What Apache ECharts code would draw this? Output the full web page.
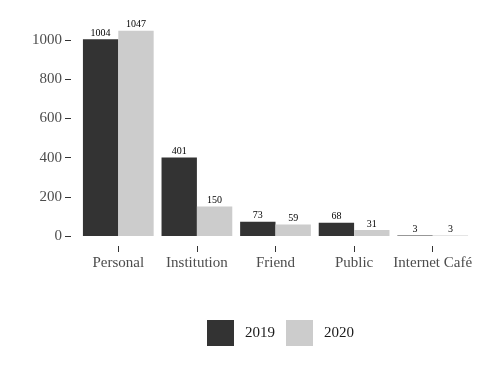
<!DOCTYPE html>
<html>
<head>
<meta charset="utf-8">
<script src="https://cdn.jsdelivr.net/npm/echarts@6/dist/echarts.min.js"></script>
<style>html,body{margin:0;padding:0;background:#fff;}#c{width:490px;height:367px;}</style>
</head>
<body>
<div id="c"></div>
<script>
const categories = ['Personal', 'Institution', 'Friend', 'Public', 'Internet Café'];
const values2019 = [1004, 401, 73, 68, 3];
const values2020 = [1047, 150, 59, 31, 3];
const seriesNames = ['2019', '2020'];
const yTicks = { min: 0, max: 1000, interval: 200 };

const FONT = '"Liberation Serif", "Times New Roman", serif';
const chart = echarts.init(document.getElementById('c'), null, { renderer: 'canvas' });
const labelCfg = { show: true, position: 'top', distance: 1, fontSize: 10, color: '#000', fontFamily: FONT };
chart.setOption({
  backgroundColor: '#fff',
  animation: false,
  grid: { left: 79, right: 18, top: 40, bottom: 131, containLabel: false },
  legend: {
    data: seriesNames,
    left: 207, top: 320, padding: 0,
    itemWidth: 27, itemHeight: 26, itemGap: 11,
    icon: 'rect',
    textStyle: { fontFamily: FONT, fontSize: 15, color: '#1a1a1a', padding: [0, 0, 0, 6] }
  },
  xAxis: {
    type: 'category',
    data: categories,
    offset: 10,
    axisLine: { show: false, onZero: false },
    axisTick: { show: true, alignWithLabel: true, length: 6, lineStyle: { color: '#333' } },
    axisLabel: { margin: 10, fontFamily: FONT, fontSize: 15, color: '#4d4d4d', interval: 0 }
  },
  yAxis: {
    type: 'value',
    min: yTicks.min, max: yTicks.max, interval: yTicks.interval,
    offset: 8,
    axisLine: { show: false, onZero: false },
    axisTick: { show: true, length: 6, lineStyle: { color: '#333' } },
    splitLine: { show: false },
    axisLabel: { margin: 9, fontFamily: FONT, fontSize: 15, color: '#4d4d4d', formatter: v => String(v) }
  },
  series: [
    { name: seriesNames[0], type: 'bar', data: values2019, barGap: '0%', barCategoryGap: '10%', clip: false,
      itemStyle: { color: '#333333' }, label: labelCfg },
    { name: seriesNames[1], type: 'bar', data: values2020, barGap: '0%', barCategoryGap: '10%', clip: false,
      itemStyle: { color: '#cccccc' }, label: labelCfg }
  ]
});
</script>
</body>
</html>
